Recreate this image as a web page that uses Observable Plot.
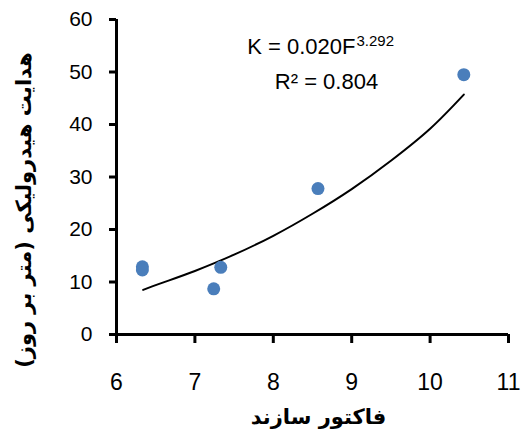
<!DOCTYPE html>
<html>
<head>
<meta charset="utf-8">
<script src="https://cdn.jsdelivr.net/npm/d3@7"></script>
<script src="https://cdn.jsdelivr.net/npm/@observablehq/plot@0.6"></script>
<style>
  html, body { margin: 0; padding: 0; background: #fff; }
</style>
</head>
<body>
<div id="chart"></div>
<script>
// Observed points
const factorValues = [6.33, 6.33, 7.24, 7.33, 8.57, 10.43];
const conductivityValues = [12.9, 12.3, 8.7, 12.8, 27.8, 49.5];

// Power trend line
const trendFactor = [6.34, 6.5, 7, 7.5, 8, 8.5, 9, 9.5, 10, 10.43];
const trendConductivity = [8.5, 9.4, 12.1, 15.2, 18.8, 23.0, 27.7, 33.1, 39.2, 45.7];

// Ticks
const xTicks = [6, 7, 8, 9, 10, 11];
const yTicks = [0, 10, 20, 30, 40, 50, 60];

// Texts
const xTitle = "فاکتور سازند";
const yTitle = "هدایت هیدرولیکی (متر بر روز)\u200F";
const eqMain = "K = 0.020F";
const eqExp = "3.292";
const eqR2 = "R² = 0.804";

const points = factorValues.map((f, i) => ({f, k: conductivityValues[i]}));
const trend = trendFactor.map((f, i) => ({f, k: trendConductivity[i]}));

const chart = Plot.plot({
  width: 522,
  height: 435,
  marginLeft: 116,
  marginRight: 14,
  marginTop: 19,
  marginBottom: 101,
  style: {background: "#fff", fontFamily: "Liberation Sans, Arial, sans-serif", color: "#000"},
  x: {domain: [6, 11]},
  y: {domain: [0, 60]},
  marks: [
    Plot.axisX({ticks: xTicks, tickSize: 9, tickPadding: 30, strokeWidth: 3, fontSize: 23, label: null, tickFormat: d => String(d)}),
    Plot.axisY({ticks: yTicks, tickSize: 7, tickPadding: 17, strokeWidth: 3, fontSize: 21, label: null, tickFormat: d => String(d)}),
    Plot.ruleX([6], {y1: 0, y2: 60, stroke: "#000", strokeWidth: 3}),
    Plot.ruleY([0], {x1: 6, x2: 11, stroke: "#000", strokeWidth: 3}),
    Plot.line(trend, {x: "f", y: "k", stroke: "#000", strokeWidth: 2, curve: "catmull-rom"}),
    Plot.dot(points, {x: "f", y: "k", r: 6.5, fill: "#4a7ebb", stroke: "none"}),
    Plot.text([eqMain], {text: d => d, frameAnchor: "top-left", dx: 239, dy: 34, textAnchor: "end", lineAnchor: "bottom", fontSize: 22}),
    Plot.text([eqExp], {text: d => d, frameAnchor: "top-left", dx: 240, dy: 26, textAnchor: "start", lineAnchor: "bottom", fontSize: 15}),
    Plot.text([eqR2], {text: d => d, frameAnchor: "top-left", dx: 210, dy: 69, textAnchor: "middle", lineAnchor: "bottom", fontSize: 22}),
    Plot.text([yTitle], {text: d => d, frameAnchor: "left", dx: -92, dy: 33, rotate: -90, textAnchor: "middle", lineAnchor: "middle", fontWeight: "bold", fontSize: 21, fontFamily: "DejaVu Sans"}),
    Plot.text([xTitle], {text: d => d, frameAnchor: "bottom", dx: 6, dy: 83, textAnchor: "middle", lineAnchor: "middle", fontWeight: "bold", fontSize: 21, fontFamily: "DejaVu Sans"})
  ]
});
document.getElementById("chart").appendChild(chart);
</script>
</body>
</html>
